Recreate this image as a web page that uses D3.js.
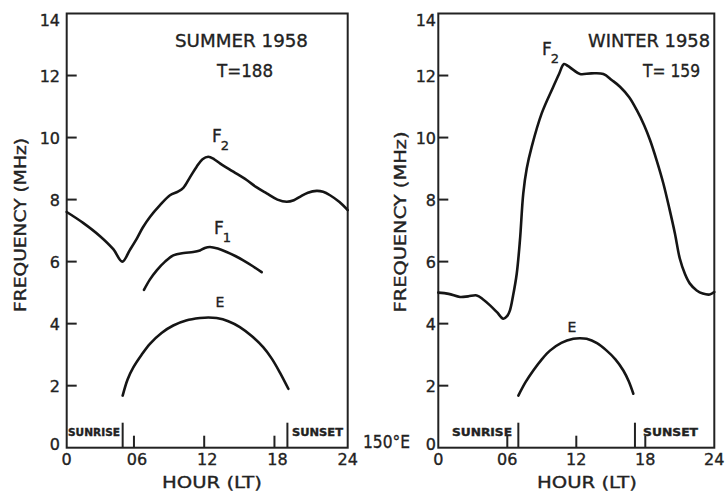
<!DOCTYPE html>
<html><head><meta charset="utf-8">
<script src="https://cdn.jsdelivr.net/npm/d3@7"></script>
<style>
html,body{margin:0;padding:0;background:#fff;}
svg{display:block;}
text{font-family:"DejaVu Sans",sans-serif;fill:#222;stroke:#222;stroke-width:0.35px;}
</style></head>
<body>
<script>
// ---- data ----
const xTickValues = [0, 6, 12, 18, 24];
const xTickLabels = ["0", "06", "12", "18", "24"];
const yTickValues = [0, 2, 4, 6, 8, 10, 12, 14];
const yTickLabels = ["0", "2", "4", "6", "8", "10", "12", "14"];

const summerF2Hours  = [0,1.4,2.85,3.98,4.75,5.4,6.0,6.5,7.11,7.97,8.82,9.5,9.96,10.5,11.1,11.6,12.09,12.6,13.09,14.23,15.37,16.2,17.08,18.0,18.79,19.4,19.92,20.6,21.35,21.9,22.49,23.3,24];
const summerF2Values = [7.6,7.25,6.82,6.4,6.0,6.38,6.75,7.1,7.44,7.82,8.14,8.26,8.38,8.7,9.06,9.3,9.38,9.3,9.17,8.9,8.63,8.4,8.2,8.0,7.93,7.98,8.09,8.22,8.28,8.25,8.14,7.92,7.66];

const summerF1Hours  = [6.6,7.1,7.69,8.4,9.1,10.0,10.8,11.38,11.8,12.24,12.9,13.66,14.4,15.08,15.9,16.65];
const summerF1Values = [5.09,5.42,5.72,6.0,6.2,6.28,6.31,6.36,6.44,6.47,6.42,6.31,6.18,6.04,5.85,5.66];

const summerEHours  = [4.78,5.2,5.69,6.4,7.11,8.1,9.1,10.2,11.38,12.1,12.8,13.8,14.79,15.8,16.78,17.5,18.2,18.93];
const summerEValues = [1.68,2.2,2.59,3.0,3.35,3.7,3.94,4.1,4.18,4.2,4.18,4.08,3.89,3.6,3.24,2.88,2.43,1.9];

const winterF2Hours  = [0,0.9,1.89,2.6,3.34,3.9,4.5,5.1,5.65,6.0,6.23,6.5,6.82,7.1,7.39,7.69,8.12,8.99,10.0,10.5,10.93,11.3,11.74,12.32,13.3,14.35,15.1,15.8,16.6,17.25,17.9,18.41,19.0,19.57,20.1,20.58,21.0,21.45,21.88,22.47,23.0,23.6,24];
const winterF2Values = [5.0,4.96,4.86,4.88,4.91,4.78,4.59,4.37,4.16,4.25,4.43,4.9,5.61,6.69,8.2,9.0,9.7,10.78,11.64,12.05,12.37,12.3,12.18,12.05,12.07,12.05,11.85,11.64,11.3,10.89,10.4,9.92,9.25,8.52,7.7,6.9,6.1,5.6,5.29,5.07,4.97,4.94,5.02];

const winterEHours  = [6.96,7.6,8.26,9.0,9.71,10.7,11.74,12.3,12.9,13.8,14.64,15.4,16.09,16.55,16.96];
const winterEValues = [1.68,2.12,2.49,2.85,3.13,3.38,3.51,3.53,3.51,3.37,3.13,2.85,2.49,2.15,1.74];

const summerSun = [4.78, 18.85];
const winterSun = [6.96, 17.1];

// ---- drawing ----
const W = 727, H = 492;
const svg = d3.select("body").append("svg").attr("width", W).attr("height", H);

const yTop = 13.5, yBot = 447.7;

function txt(g, s, x, y, size, opts = {}) {
  const t = g.append("text").attr("x", x).attr("y", y).attr("font-size", size).text(s);
  if (opts.anchor) t.attr("text-anchor", opts.anchor);
  if (opts.len) t.attr("textLength", opts.len).attr("lengthAdjust", "spacingAndGlyphs");
  if (opts.weight) t.attr("font-weight", opts.weight);
  if (opts.transform) t.attr("transform", opts.transform);
  return t;
}

function panel(cfg) {
  const g = svg.append("g");
  const x = d3.scaleLinear().domain([0, 24]).range([cfg.x0, cfg.x1]);
  const y = d3.scaleLinear().domain([0, 14]).range([yBot, yTop]);

  g.append("rect").attr("x", cfg.x0).attr("y", yTop).attr("width", cfg.x1 - cfg.x0).attr("height", yBot - yTop)
    .attr("fill", "none").attr("stroke", "#222").attr("stroke-width", 2);

  g.selectAll(".yt").data(yTickValues.filter(v => v > 0 && v < 14)).enter().append("line")
    .attr("x1", cfg.x0).attr("x2", cfg.x0 + 10).attr("y1", d => y(d)).attr("y2", d => y(d))
    .attr("stroke", "#222").attr("stroke-width", 2);
  yTickValues.forEach((v, i) => {
    let yy = y(v) + 6;
    if (v === 14) yy = yTop + 12;
    if (v === 0) yy = yBot + 2;
    txt(g, yTickLabels[i], cfg.yLabelRight, yy, 16, {anchor: "end"});
  });

  g.selectAll(".xt").data(xTickValues.filter(v => v > 0 && v < 24)).enter().append("line")
    .attr("x1", d => x(d) + cfg.xTickShift).attr("x2", d => x(d) + cfg.xTickShift)
    .attr("y1", yBot).attr("y2", yBot - 12).attr("stroke", "#222").attr("stroke-width", 2);
  xTickValues.forEach((v, i) => {
    txt(g, xTickLabels[i], x(v), 465, 16, {anchor: "middle"});
  });

  cfg.sun.forEach(h => {
    g.append("line").attr("x1", x(h)).attr("x2", x(h)).attr("y1", yBot - 25).attr("y2", yBot)
      .attr("stroke", "#222").attr("stroke-width", 2);
  });
  txt(g, "SUNRISE", cfg.sunriseX, 435.5, 10, {len: cfg.sunriseLen, weight: "bold"});
  txt(g, "SUNSET", cfg.sunsetX, 435.5, 10, {len: cfg.sunsetLen, weight: "bold"});

  const line = d3.line().x(d => x(d[0])).y(d => y(d[1])).curve(d3.curveCatmullRom.alpha(0.5));
  cfg.series.forEach(s => {
    const pts = s.h.map((h, i) => [h, s.v[i]]);
    g.append("path").attr("d", line(pts)).attr("fill", "none")
      .attr("stroke", "#151515").attr("stroke-width", 2.6).attr("stroke-linecap", "round").attr("stroke-linejoin", "round");
  });

  txt(g, "HOUR (LT)", cfg.hourX, 488, 16, {anchor: "middle", len: 100});
  txt(g, "FREQUENCY (MHz)", 0, 0, 15, {anchor: "middle", len: cfg.freqLen,
      transform: `translate(${cfg.freqX},${cfg.freqY}) rotate(-90)`});
  return g;
}

const L = panel({
  x0: 66.7, x1: 347.7, yLabelRight: 60, xTickShift: -3,
  sun: summerSun, sunriseX: 68, sunriseLen: 52, sunsetX: 292, sunsetLen: 51,
  series: [{h: summerF2Hours, v: summerF2Values}, {h: summerF1Hours, v: summerF1Values}, {h: summerEHours, v: summerEValues}],
  hourX: 212, freqX: 26, freqY: 225, freqLen: 174
});
const R = panel({
  x0: 438.3, x1: 714.3, yLabelRight: 436, xTickShift: 0,
  sun: winterSun, sunriseX: 452, sunriseLen: 60, sunsetX: 643, sunsetLen: 55,
  series: [{h: winterF2Hours, v: winterF2Values}, {h: winterEHours, v: winterEValues}],
  hourX: 587, freqX: 406, freqY: 222, freqLen: 181
});

txt(L, "SUMMER 1958", 175, 47, 18, {len: 133});
txt(L, "T=188", 217, 77, 17, {len: 56});
txt(R, "WINTER 1958", 588, 47, 18, {len: 122});
txt(R, "T= 159", 643, 77, 17, {len: 57});

function subLabel(g, main, sub, x, y) {
  const t = g.append("text").attr("x", x).attr("y", y).attr("font-size", 17);
  t.append("tspan").text(main);
  t.append("tspan").attr("font-size", 13).attr("dy", 8).attr("dx", -1).text(sub);
}
subLabel(L, "F", "2", 212, 142);
subLabel(L, "F", "1", 214, 234);
txt(L, "E", 220, 307, 14, {anchor: "middle"});
subLabel(R, "F", "2", 542, 55);
txt(R, "E", 572, 332, 14, {anchor: "middle"});
txt(R, "150°E", 363, 448, 17, {len: 47});
</script>
</body></html>
